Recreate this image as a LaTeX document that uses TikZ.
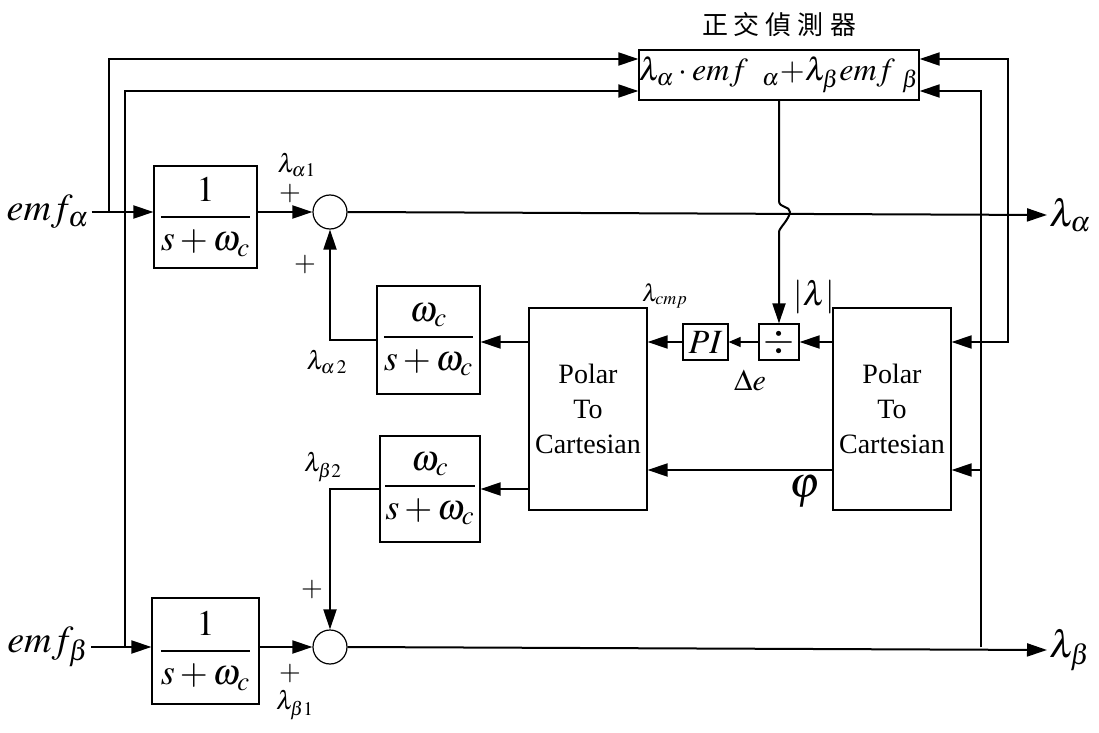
\documentclass[tikz,border=0pt]{standalone}
\usepackage{mathptmx}
\usepackage{fontspec}
\setmainfont{Liberation Serif}
\newfontfamily\cjkfont{Noto Sans CJK TC}
\usetikzlibrary{arrows.meta,positioning}

\begin{document}
\begin{tikzpicture}[
    x=0.5pt, y=-0.5pt,
    blk/.style={draw, line width=0.6pt, inner sep=0pt, align=center},
    frac/.style={blk, font=\fontsize{18}{20}\selectfont},
    ptc/.style={blk, minimum width=59pt, minimum height=101pt, font=\fontsize{14}{17.5}\selectfont},
    sumc/.style={draw, circle, line width=0.6pt, minimum size=17pt, inner sep=0pt},
    sig/.style={line width=1pt, -{Triangle[length=10pt,width=6.5pt]}},
    sigs/.style={line width=0.6pt, -{Triangle[length=6pt,width=5pt]}},
    lbl/.style={inner sep=0pt, font=\fontsize{13}{14}\selectfont},
    big/.style={inner sep=1pt, font=\fontsize{19}{21}\selectfont},
    pls/.style={inner sep=0pt, font=\fontsize{14}{14}\selectfont}
]
\useasboundingbox (0,0) rectangle (1099,733);

% detector
\node[blk, minimum width=138pt, minimum height=25pt, font=\fontsize{16}{18}\selectfont] (det) at (779,75)
    {$\lambda_\alpha\cdot emf\;\;{}_\alpha{+}\lambda_\beta emf\;{}_\beta$};
\node[above=3pt of det, font=\cjkfont\fontsize{13}{15}\selectfont] (dtitle)
    {正\hspace{3pt}交\hspace{3pt}偵\hspace{3pt}測\hspace{3pt}器};

% filters and sums
\node[frac, minimum width=51.5pt, minimum height=51pt] (lpa) at (205.5,217) {$\displaystyle\frac{1}{s+\omega_c}$};
\node[frac, minimum width=53.5pt, minimum height=53pt] (lpb) at (205.5,651) {$\displaystyle\frac{1}{s+\omega_c}$};
\node[frac, minimum width=51.5pt, minimum height=54pt] (hpa) at (428.5,340) {$\displaystyle\frac{\omega_c}{s+\omega_c}$};
\node[frac, minimum width=50pt, minimum height=53pt] (hpb) at (430,489) {$\displaystyle\frac{\omega_c}{s+\omega_c}$};
\node[sumc] (suma) at (330,212) {};
\node[sumc] (sumb) at (330,647) {};

% polar blocks
\node[ptc] (ptcl) at (588,409) {Polar\\To\\Cartesian};
\node[ptc] (ptcr) at (892,409) {Polar\\To\\Cartesian};
\node[blk, minimum width=20pt, minimum height=18pt, font=\fontsize{20}{20}\selectfont] (dv) at (779,342) {$\div$};
\node[blk, minimum width=22.5pt, minimum height=18pt, font=\fontsize{17}{17}\selectfont] (pi) at (705.5,342) {$PI$};

% inputs and outputs
\node[big] (emfa) at (48,212) {$emf_\alpha$};
\node[big] (emfb) at (48,647) {$emf_\beta$};
\node[anchor=west, inner sep=1pt, font=\fontsize{19}{21}\selectfont] (lama) at (1047,215) {$\lambda_\alpha$};
\node[anchor=west, inner sep=1pt, font=\fontsize{19}{21}\selectfont] (lamb) at (1047,650) {$\lambda_\beta$};
\coordinate (ja) at (109,212);
\coordinate (jb) at (125,647);
\coordinate (ra) at (1008,212);
\coordinate (rb) at (981,647);
\coordinate (hop) at (det.south |- suma);

% labels
\node[lbl] (la1) at (297,165) {$\lambda_{\alpha1}$};
\node[pls] (pa1) at (290,194) {$+$};
\node[pls] (pa2) at (305,265) {$+$};
\node[lbl] (la2) at (327,362) {$\lambda_{\alpha\,2}$};
\node[lbl] (lb2) at (323,467) {$\lambda_{\beta2}$};
\node[pls] (pb2) at (312,590) {$+$};
\node[pls] (pb1) at (290,674) {$+$};
\node[lbl] (lb1) at (295,705) {$\lambda_{\beta1}$};
\node[inner sep=0pt, font=\fontsize{12}{13}\selectfont] (lcmp) at (665,296) {$\lambda_{cmp}$};
\node[inner sep=0pt, font=\fontsize{17}{19}\selectfont] (mag) at (814,297) {$|\lambda|$};
\node[inner sep=0pt, font=\fontsize{15}{17}\selectfont] (de) at (750,380) {$\Delta e$};
\node[inner sep=0pt, font=\fontsize{22}{24}\selectfont] (phi) at (805,492) {$\varphi$};

% connectors
\draw[sig] (emfa.east) -- (lpa.west |- emfa);
\draw[sig] (emfb.east) -- (lpb.west |- emfb);
\draw[sig] (ja) |- ([yshift=8pt]det.west);
\draw[sig] (jb) |- ([yshift=-8pt]det.west);
\draw[sig] (lpa.east |- suma) -- (suma.west);
\draw[sig] (lpb.east |- sumb) -- (sumb.west);
\draw[sig] (suma.east) -- (lama.west);
\draw[sig] (sumb.east) -- (lamb.west);
\draw[sig] (ra) |- ([yshift=8pt]det.east);
\draw[sig] (ra) |- (ptcr.east |- dv);
\draw[sig] (rb) |- ([yshift=-8pt]det.east);
\draw[sig] (rb) |- ([yshift=-30.5pt]ptcr.east);
\draw[sig] (ptcr.west |- dv) -- (dv.east);
\draw[sigs] (dv.west) -- (pi.east);
\draw[sig] (pi.west) -- (ptcl.east |- pi);
\draw[sig] ([yshift=-30.5pt]ptcr.west) -- ([yshift=-30.5pt]ptcl.east);
\draw[sig] (ptcl.west |- dv) -- (hpa.east |- dv);
\draw[sig] (ptcl.west |- hpb) -- (hpb.east);
\draw[sig] (hpa.west) -| (suma.south);
\draw[sig] (hpb.west) -| (sumb.north);
\draw[sig] (det.south) -- ([yshift=5.5pt]hop)
    .. controls ([yshift=2pt]hop) and ([xshift=5.5pt,yshift=3pt]hop) .. ([xshift=5.5pt]hop)
    .. controls ([xshift=5pt,yshift=-4pt]hop) and ([yshift=-8pt]hop) .. ([yshift=-10pt]hop)
    -- (dv.north);
\end{tikzpicture}
\end{document}
